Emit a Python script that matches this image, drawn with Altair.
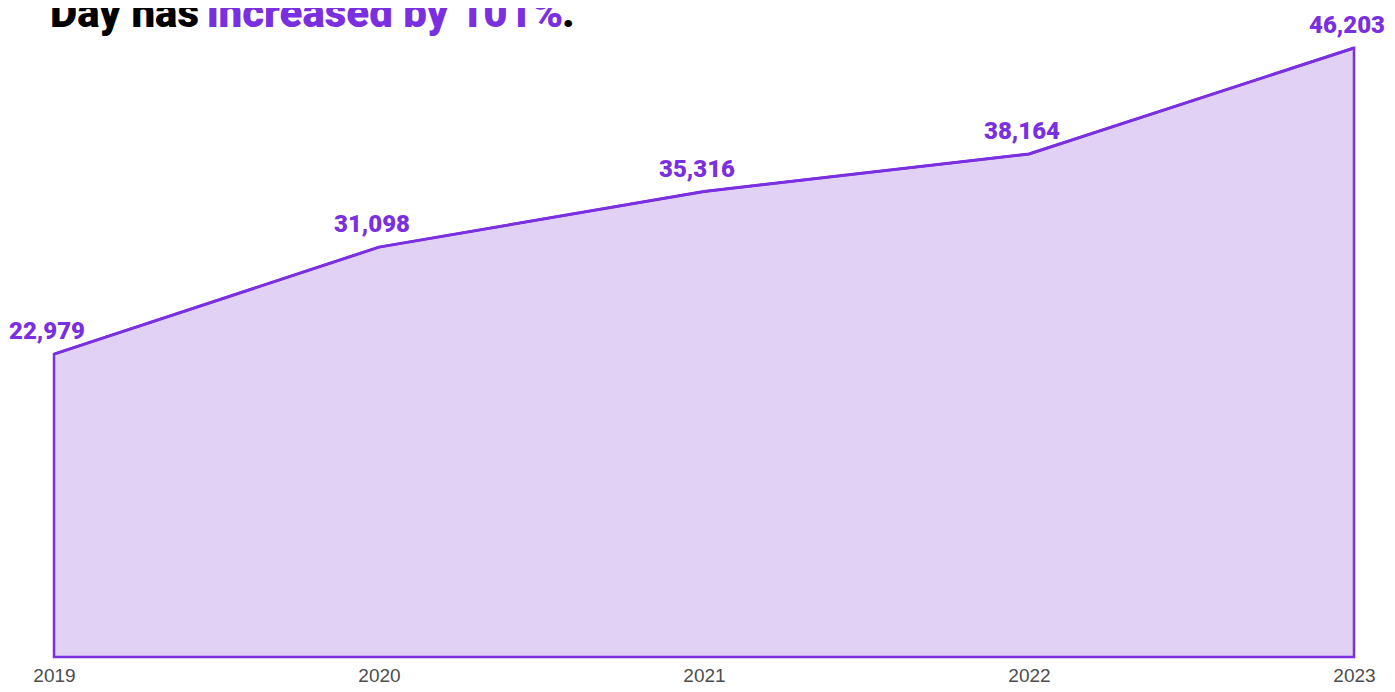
import altair as alt
import pandas as pd

years = [2019, 2020, 2021, 2022, 2023]
values = [22979, 31098, 35316, 38164, 46203]
labels = ["22,979", "31,098", "35,316", "38,164", "46,203"]

title_parts = ["Day has", "increased by 101%", "."]
title_colors = ["#000000", "#7A2FE0", "#000000"]
title_x = [-4, 153, 508]

df = pd.DataFrame({"year": years, "value": values, "label": labels})
tdf = pd.DataFrame({"t": title_parts, "c": title_colors, "px": title_x})

PURPLE = "#7A2FE0"
FILL = "#E1D2F5"
HEAVY = "Roboto, Liberation Sans, sans-serif"

x = alt.X("year:Q", scale=alt.Scale(domain=[2019, 2023], nice=False, zero=False),
          axis=alt.Axis(values=years, format="d", title=None, grid=False, domain=False,
                        ticks=False, labelFontSize=19, labelColor="#4d4d4d",
                        labelFont="Liberation Sans, Arial, sans-serif", labelPadding=9,
                        labelFlush=False))
y = alt.Y("value:Q", scale=alt.Scale(domain=[0, 49240], nice=False), axis=None)

area = alt.Chart(df).mark_area(fill=FILL, stroke=PURPLE, strokeWidth=2.5, strokeJoin="miter").encode(x=x, y=y)
line = alt.Chart(df).mark_line(color=PURPLE, strokeWidth=3).encode(x=x, y=y)
text = alt.Chart(df).mark_text(color=PURPLE, font=HEAVY, fontWeight=900, fontSize=24,
                               align="center", baseline="alphabetic", dy=-15, dx=-7).encode(
    x=x, y=y, text="label:N")

title = alt.Chart(tdf).mark_text(font=HEAVY, fontWeight=900, fontSize=42,
                                 align="left", baseline="alphabetic").encode(
    x=alt.X("px:Q", scale=None), y=alt.value(19), text="t:N",
    color=alt.Color("c:N", scale=None))

chart = alt.layer(area, line, text, title).properties(
    width=1300, height=649,
    autosize=alt.AutoSizeParams(type="none"),
    padding={"left": 46, "top": 0, "right": 33, "bottom": 27},
).configure(background="white").configure_view(stroke=None, strokeWidth=0)

chart.save("out.html", embed_options={"renderer": "svg", "actions": False})
